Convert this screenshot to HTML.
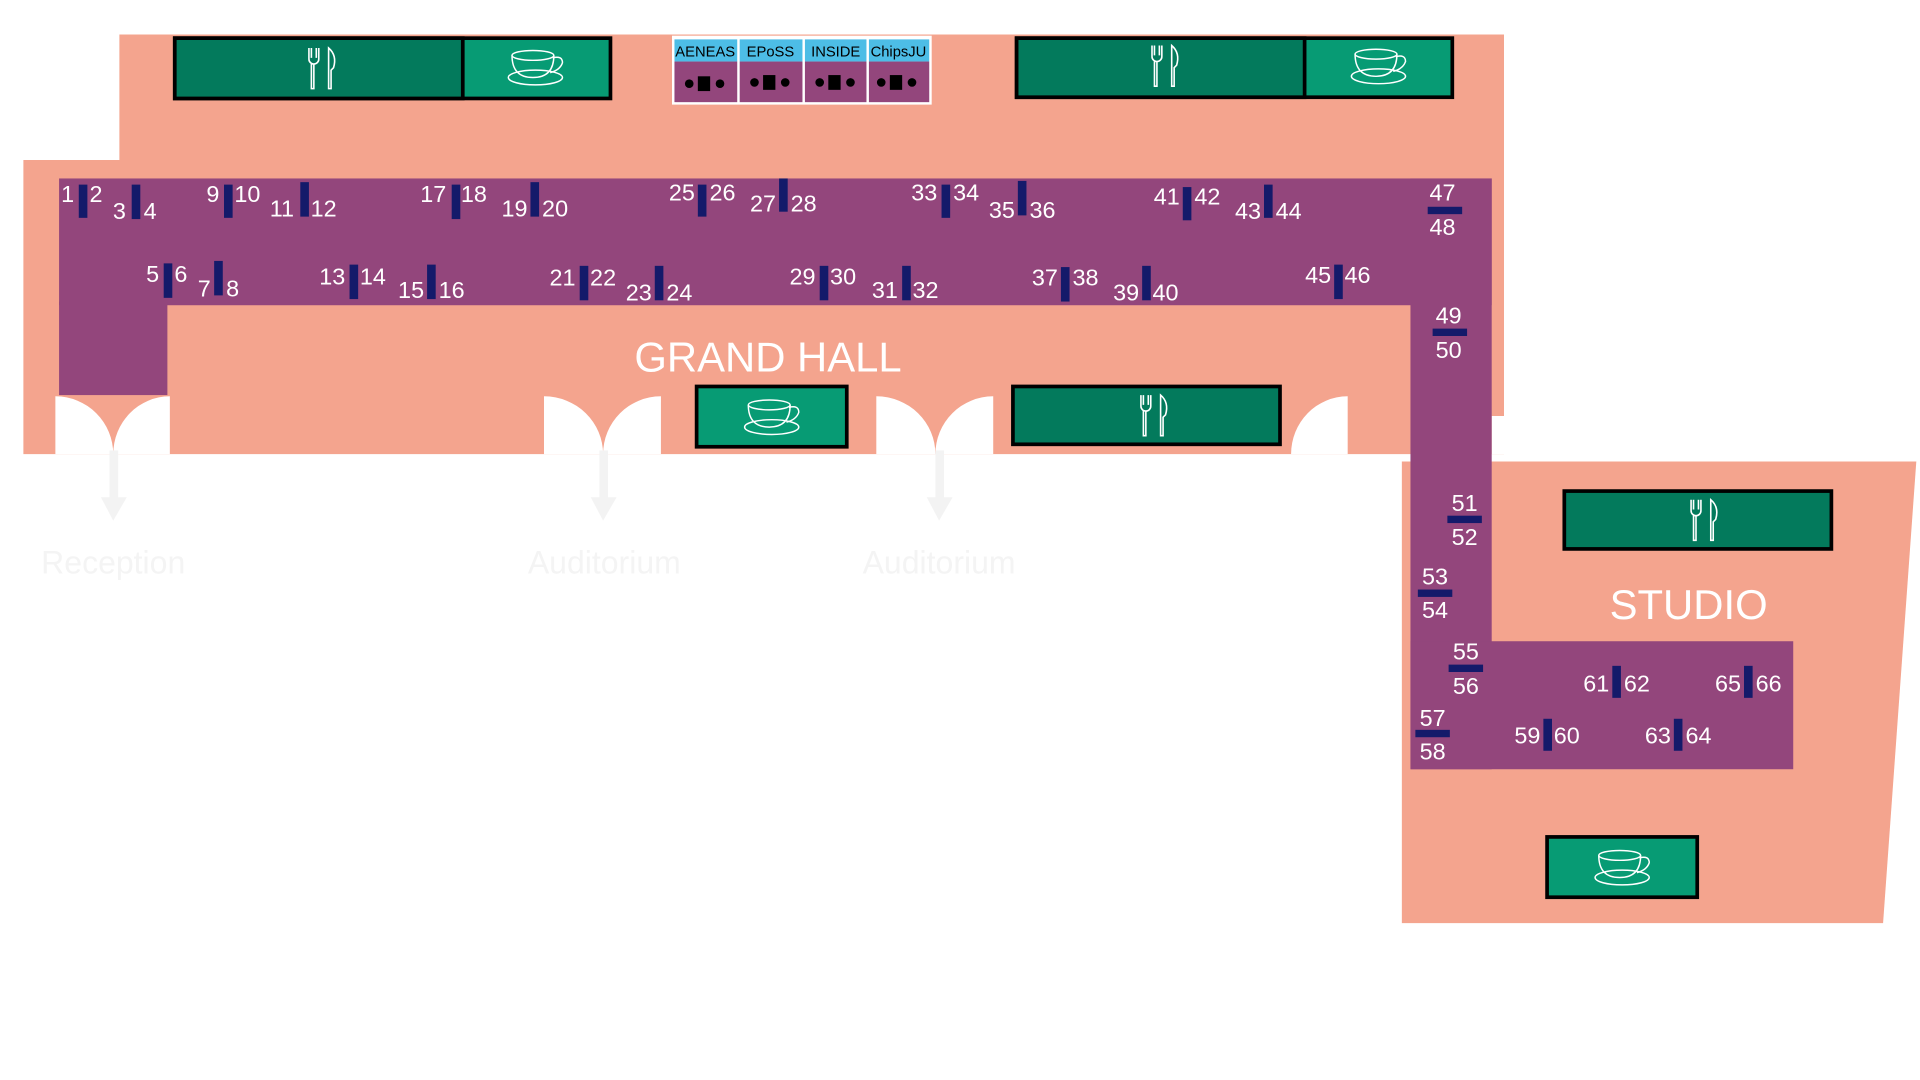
<!DOCTYPE html>
<html><head><meta charset="utf-8"><style>
html,body{margin:0;padding:0;background:#fff;width:1920px;height:1080px;overflow:hidden}
svg{display:block}
text{font-family:"Liberation Sans",sans-serif}
.n{fill:#fff;font-size:19px}
.c{text-anchor:middle}
</style></head><body>
<svg width="1920" height="1080" viewBox="0 0 1560 877.5" xmlns="http://www.w3.org/2000/svg">
<defs>
<g id="fork" fill="none" stroke="#fff" stroke-width="1.3">
  <path d="M-11,-16 v9 a4,4 0 0 0 8,0 v-9 M-9,-16 v8 M-5,-16 v8 M-7,-3 v20 h-2 v-20"/>
  <path d="M5,-16 q7,6 4,16 l-2,2 v15 h-2 z"/>
</g>
<g id="cup" fill="none" stroke="#fff" stroke-width="1.2">
  <ellipse cx="0" cy="10" rx="22" ry="6"/>
  <ellipse cx="-2" cy="-8" rx="17" ry="4"/>
  <path d="M-19,-8 q0,18 17,18 q17,0 17,-18"/>
  <path d="M14,-6 q8,-2 8,4 q-2,6 -10,8"/>
</g>
</defs>
<path d="M97,28 H1222 V369 H19 V130 H97 Z" fill="#f4a48e"/>
<path d="M1139,375 H1557 L1530,750 H1139 Z" fill="#f4a48e"/>
<g fill="#fff">
  <path d="M45,322 A47,47 0 0 1 92,369 H45 Z"/>
  <path d="M138,322 A46,47 0 0 0 92,369 H138 Z"/>
  <path d="M442,322 A48,47 0 0 1 490,369 H442 Z"/>
  <path d="M537,322 A47,47 0 0 0 490,369 H537 Z"/>
  <path d="M712,322 A48,47 0 0 1 760,369 H712 Z"/>
  <path d="M807,322 A47,47 0 0 0 760,369 H807 Z"/>
  <path d="M1049,369 A46,47 0 0 1 1095,322 V369 Z"/>
  <rect x="1212" y="338" width="10" height="31"/>
</g>
<g fill="#93467c">
  <rect x="48" y="145" width="1164" height="103"/>
  <rect x="48" y="245" width="88" height="76"/>
  <rect x="1146" y="145" width="66" height="480"/>
  <rect x="1146" y="521" width="311" height="104"/>
</g>
<g fill="#f3f3f3">
  <rect x="89" y="366" width="7" height="40"/><path d="M82,404 H103 L92,423 Z"/>
  <rect x="487" y="366" width="7" height="40"/><path d="M480,404 H501 L490,423 Z"/>
  <rect x="760" y="366" width="7" height="40"/><path d="M753,404 H774 L763,423 Z"/>
</g>
<text x="92" y="466" class="c" fill="#f4f4f4" font-size="26">Reception</text>
<text x="491" y="466" class="c" fill="#f4f4f4" font-size="26">Auditorium</text>
<text x="763" y="466" class="c" fill="#f4f4f4" font-size="26">Auditorium</text>
<g stroke="#000" stroke-width="3">
  <rect x="142" y="31" width="354" height="49" fill="#079b74"/>
  <rect x="142" y="31" width="234" height="49" fill="#037a5c"/>
  <rect x="826" y="31" width="354" height="48" fill="#079b74"/>
  <rect x="826" y="31" width="234" height="48" fill="#037a5c"/>
  <rect x="566" y="314" width="122" height="49" fill="#079b74"/>
  <rect x="823" y="314" width="217" height="47" fill="#037a5c"/>
  <rect x="1271" y="399" width="217" height="47" fill="#037a5c"/>
  <rect x="1257" y="680" width="122" height="49" fill="#079b74"/>
</g>
<use href="#fork" x="262" y="55"/>
<use href="#cup" x="435" y="53"/>
<use href="#fork" x="947" y="53"/>
<use href="#cup" x="1120" y="52"/>
<use href="#cup" x="627" y="337"/>
<use href="#fork" x="938" y="337"/>
<use href="#fork" x="1385" y="422"/>
<use href="#cup" x="1318" y="703"/>
<rect x="546" y="29" width="211" height="56" fill="#fff"/>
<g>
  <rect x="548" y="32" width="51" height="18" fill="#4dbde6"/><rect x="548" y="50" width="51" height="33" fill="#93467c"/>
  <rect x="601" y="32" width="51" height="18" fill="#4dbde6"/><rect x="601" y="50" width="51" height="33" fill="#93467c"/>
  <rect x="654" y="32" width="50" height="18" fill="#4dbde6"/><rect x="654" y="50" width="50" height="33" fill="#93467c"/>
  <rect x="706" y="32" width="49" height="18" fill="#4dbde6"/><rect x="706" y="50" width="49" height="33" fill="#93467c"/>
</g>
<g font-size="12" fill="#000" text-anchor="middle">
  <text x="573" y="46">AENEAS</text><text x="626" y="46">EPoSS</text><text x="679" y="46">INSIDE</text><text x="730" y="46">ChipsJU</text>
</g>
<g fill="#000">
  <circle cx="560" cy="68" r="3.5"/><rect x="567" y="62" width="10" height="12"/><circle cx="585" cy="68" r="3.5"/>
  <circle cx="613" cy="67" r="3.5"/><rect x="620" y="61" width="10" height="12"/><circle cx="638" cy="67" r="3.5"/>
  <circle cx="666" cy="67" r="3.5"/><rect x="673" y="61" width="10" height="12"/><circle cx="691" cy="67" r="3.5"/>
  <circle cx="716" cy="67" r="3.5"/><rect x="723" y="61" width="10" height="12"/><circle cx="741" cy="67" r="3.5"/>
</g>
<text x="624" y="302" class="c" fill="#fff" font-size="34">GRAND HALL</text>
<text x="1372" y="503" class="c" fill="#fff" font-size="34">STUDIO</text>
<g fill="#141a6a">
  <rect x="64" y="150" width="7" height="27"/><rect x="107" y="150" width="7" height="28"/>
  <rect x="182" y="150" width="7" height="27"/><rect x="244" y="148" width="7" height="28"/>
  <rect x="367" y="150" width="7" height="28"/><rect x="431" y="148" width="7" height="28"/>
  <rect x="567" y="150" width="7" height="26"/><rect x="633" y="145" width="7" height="27"/>
  <rect x="765" y="150" width="7" height="27"/><rect x="827" y="147" width="7" height="28"/>
  <rect x="961" y="152" width="7" height="27"/><rect x="1027" y="150" width="7" height="27"/>
  <rect x="133" y="214" width="7" height="28"/><rect x="174" y="212" width="7" height="28"/>
  <rect x="284" y="215" width="7" height="28"/><rect x="347" y="215" width="7" height="28"/>
  <rect x="471" y="216" width="7" height="28"/><rect x="532" y="216" width="7" height="28"/>
  <rect x="666" y="216" width="7" height="28"/><rect x="733" y="216" width="7" height="28"/>
  <rect x="862" y="217" width="7" height="28"/><rect x="928" y="216" width="7" height="28"/>
  <rect x="1084" y="215" width="7" height="28"/>
  <rect x="1310" y="541" width="7" height="26"/><rect x="1417" y="541" width="7" height="26"/>
  <rect x="1254" y="584" width="7" height="26"/><rect x="1360" y="584" width="7" height="26"/>
  <rect x="1160" y="168" width="28" height="6"/><rect x="1164" y="267" width="28" height="6"/>
  <rect x="1176" y="419" width="28" height="6"/><rect x="1152" y="479" width="28" height="6"/>
  <rect x="1177" y="540" width="28" height="6"/><rect x="1150" y="593" width="28" height="6"/>
</g>
<g class="n" text-anchor="middle">
  <text x="55" y="164">1</text><text x="78" y="164">2</text><text x="97" y="178">3</text><text x="122" y="178">4</text>
  <text x="173" y="164">9</text><text x="201" y="164">10</text><text x="229" y="176">11</text><text x="263" y="176">12</text>
  <text x="352" y="164">17</text><text x="385" y="164">18</text><text x="418" y="176">19</text><text x="451" y="176">20</text>
  <text x="554" y="163">25</text><text x="587" y="163">26</text><text x="620" y="172">27</text><text x="653" y="172">28</text>
  <text x="751" y="163">33</text><text x="785" y="163">34</text><text x="814" y="177">35</text><text x="847" y="177">36</text>
  <text x="948" y="166">41</text><text x="981" y="166">42</text><text x="1014" y="178">43</text><text x="1047" y="178">44</text>
  <text x="124" y="229">5</text><text x="147" y="229">6</text><text x="166" y="241">7</text><text x="189" y="241">8</text>
  <text x="270" y="231">13</text><text x="303" y="231">14</text><text x="334" y="242">15</text><text x="367" y="242">16</text>
  <text x="457" y="232">21</text><text x="490" y="232">22</text><text x="519" y="244">23</text><text x="552" y="244">24</text>
  <text x="652" y="231">29</text><text x="685" y="231">30</text><text x="719" y="242">31</text><text x="752" y="242">32</text>
  <text x="849" y="232">37</text><text x="882" y="232">38</text><text x="915" y="244">39</text><text x="947" y="244">40</text>
  <text x="1071" y="230">45</text><text x="1103" y="230">46</text>
  <text x="1172" y="163">47</text><text x="1172" y="191">48</text>
  <text x="1177" y="263">49</text><text x="1177" y="291">50</text>
  <text x="1190" y="415">51</text><text x="1190" y="443">52</text>
  <text x="1166" y="475">53</text><text x="1166" y="502">54</text>
  <text x="1191" y="536">55</text><text x="1191" y="564">56</text>
  <text x="1164" y="590">57</text><text x="1164" y="617">58</text>
  <text x="1297" y="562">61</text><text x="1330" y="562">62</text><text x="1404" y="562">65</text><text x="1437" y="562">66</text>
  <text x="1241" y="604">59</text><text x="1273" y="604">60</text><text x="1347" y="604">63</text><text x="1380" y="604">64</text>
</g>
</svg>
</body></html>
